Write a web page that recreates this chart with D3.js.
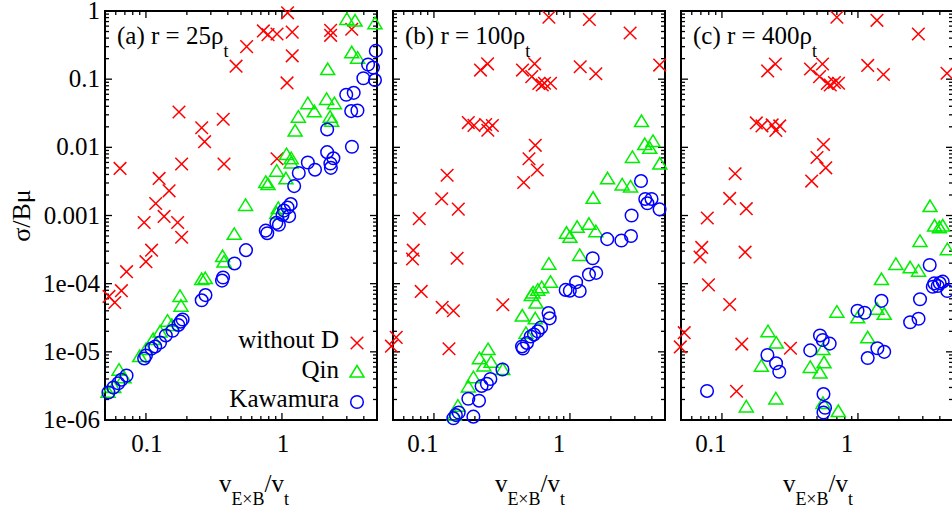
<!DOCTYPE html>
<html>
<head>
<meta charset="utf-8">
<script src="https://cdn.jsdelivr.net/npm/d3@7"></script>
<style>
  body { margin: 0; background: #fff; }
  svg text { font-family: "Liberation Serif", "Times New Roman", serif; fill: #000; }
</style>
</head>
<body>
<svg id="chart" width="952" height="516"></svg>
<script>
// points are [v_ExB / v_t, sigma / (B mu)]
const withoutD_a = [[1.1,0.94],[0.73,0.51],[0.79,0.45],[0.92,0.46],[1.19,0.49],[2.28,0.52],[2.28,0.44],[3.26,0.54],[0.55,0.30],[0.46,0.155],[1.19,0.22],[1.09,0.088],[0.92,0.0068],[0.175,0.033],[0.257,0.0194],[0.27,0.0121],[0.37,0.0258],[0.0645,0.0049],[0.183,0.0057],[0.375,0.0057],[0.125,0.0035],[0.148,0.0023],[0.118,0.0015],[0.136,0.00097],[0.097,0.00079],[0.171,0.00079],[0.183,0.00048],[0.11,0.00031],[0.1,0.00021],[0.072,0.00015],[0.066,7.9e-5],[0.0535,6.5e-5],[0.059,5.3e-5]];
const qin_a = [[3.0,0.74],[3.45,0.70],[4.83,0.64],[3.26,0.24],[3.6,0.20],[2.17,0.136],[1.55,0.043],[2.13,0.0495],[2.43,0.043],[1.73,0.0327],[1.32,0.0272],[2.26,0.0272],[2.32,0.0238],[1.25,0.017],[1.08,0.0077],[1.17,0.0067],[1.17,0.0058],[0.915,0.0044],[0.76,0.0030],[0.79,0.0028],[1.07,0.0034],[0.54,0.00138],[0.94,0.00125],[0.915,0.00105],[0.446,0.00052],[0.366,0.000246],[0.375,0.000204],[0.257,0.000113],[0.273,0.000117],[0.178,6.4e-5],[0.181,4.6e-5],[0.155,2.4e-5],[0.144,2.77e-5],[0.127,1.92e-5],[0.113,1.49e-5],[0.1,1.06e-5],[0.09,8.4e-6],[0.0634,5.3e-6],[0.069,4.1e-6],[0.058,2.95e-6],[0.0526,2.5e-6]];
const kawamura_a = [[4.9,0.26],[4.3,0.164],[4.67,0.148],[3.97,0.103],[4.83,0.097],[2.97,0.059],[3.37,0.063],[3.23,0.034],[3.59,0.0347],[2.15,0.0183],[3.27,0.0102],[2.15,0.0085],[2.39,0.0069],[2.27,0.0058],[2.29,0.0050],[1.55,0.0060],[1.75,0.0047],[1.33,0.0042],[1.23,0.0027],[1.16,0.00147],[1.10,0.00131],[1.035,0.00118],[1.13,0.00098],[1.01,0.00102],[0.91,0.00078],[0.95,0.00073],[0.76,0.0006],[0.78,0.00055],[0.544,0.00031],[0.448,0.000198],[0.369,0.000123],[0.3625,0.000111],[0.274,6.8e-5],[0.257,5.7e-5],[0.186,2.98e-5],[0.18,2.77e-5],[0.173,2.48e-5],[0.157,2.04e-5],[0.14,1.74e-5],[0.127,1.37e-5],[0.117,1.2e-5],[0.11,1.12e-5],[0.1,8.8e-6],[0.097,8.0e-6],[0.072,4.5e-6],[0.066,3.9e-6],[0.0626,3.46e-6],[0.0577,3.0e-6],[0.053,2.53e-6]];

const withoutD_b = [[0.70,0.81],[1.39,0.75],[2.77,0.476],[4.57,0.161],[0.22,0.136],[0.248,0.168],[0.448,0.136],[0.55,0.168],[0.524,0.109],[0.59,0.0864],[0.626,0.082],[0.65,0.087],[0.72,0.087],[1.19,0.152],[1.55,0.12],[0.179,0.0231],[0.197,0.021],[0.24,0.0216],[0.249,0.0178],[0.269,0.0209],[0.556,0.0107],[0.50,0.0068],[0.575,0.00465],[0.457,0.00305],[0.125,0.0039],[0.114,0.00176],[0.151,0.00124],[0.078,0.0009],[0.0704,0.00031],[0.0696,0.00023],[0.148,0.000236],[0.0806,7.7e-5],[0.115,4.5e-5],[0.139,4.0e-5],[0.321,4.9e-5],[0.0528,1.63e-5],[0.0487,1.21e-5],[0.129,1.11e-5]];
const qin_b = [[3.36,0.0235],[3.55,0.0108],[4.08,0.012],[3.86,0.0095],[2.88,0.0070],[4.58,0.0056],[1.89,0.0034],[2.42,0.00276],[2.79,0.00258],[1.48,0.00176],[1.13,0.00066],[1.38,0.00073],[1.55,0.00057],[0.943,0.00054],[1.0,0.00047],[1.18,0.000255],[0.70,0.00019],[0.72,0.000103],[0.535,7.2e-5],[0.58,7.9e-5],[0.62,8.6e-5],[0.52,6.6e-5],[0.563,5.1e-5],[0.446,3.3e-5],[0.556,3.0e-5],[0.475,1.83e-5],[0.25,1.06e-5],[0.216,7.8e-6],[0.263,6.9e-6],[0.233,6.1e-6],[0.321,5.4e-6],[0.195,4.1e-6],[0.179,3.0e-6],[0.150,1.57e-6],[0.141,1.15e-6]];
const kawamura_b = [[3.33,0.0032],[3.58,0.00175],[3.98,0.00175],[3.71,0.00151],[4.56,0.00123],[2.84,0.0010],[1.88,0.00045],[2.39,0.00043],[2.81,0.0005],[1.47,0.000236],[1.38,0.000136],[1.56,0.000144],[1.11,0.000105],[0.93,8.1e-5],[0.998,7.9e-5],[1.18,7.8e-5],[0.696,3.7e-5],[0.71,3.1e-5],[0.613,2.28e-5],[0.58,2.0e-5],[0.544,1.8e-5],[0.515,1.68e-5],[0.483,1.35e-5],[0.444,1.2e-5],[0.452,1.12e-5],[0.319,5.5e-6],[0.26,4.0e-6],[0.245,3.4e-6],[0.224,3.16e-6],[0.2145,1.92e-6],[0.179,2.05e-6],[0.152,1.29e-6],[0.145,1.18e-6],[0.139,1.06e-6],[0.195,1.12e-6]];

const withoutD_c = [[0.70,0.81],[1.38,0.73],[2.78,0.46],[4.52,0.122],[0.217,0.132],[0.247,0.167],[0.448,0.141],[0.549,0.167],[0.522,0.109],[0.595,0.0864],[0.626,0.082],[0.672,0.0894],[0.72,0.087],[1.18,0.159],[1.54,0.117],[0.179,0.0228],[0.197,0.0206],[0.234,0.0213],[0.249,0.0177],[0.266,0.0206],[0.558,0.011],[0.50,0.0071],[0.58,0.0050],[0.457,0.0032],[0.125,0.0041],[0.114,0.00178],[0.151,0.00126],[0.078,0.00092],[0.071,0.00034],[0.069,0.000246],[0.148,0.00029],[0.0796,9.6e-5],[0.114,4.95e-5],[0.0528,1.91e-5],[0.0494,1.18e-5],[0.14,1.3e-5],[0.319,1.13e-5],[0.128,2.64e-6]];
const qin_c = [[3.39,0.00133],[3.66,0.00069],[3.97,0.00065],[4.2,0.00069],[2.86,0.00041],[4.54,0.00031],[1.9,0.000188],[2.42,0.000168],[2.79,0.00015],[1.49,0.000113],[0.70,3.75e-5],[0.996,3.1e-5],[1.38,4.15e-5],[1.56,3.5e-5],[1.18,1.58e-5],[0.218,1.94e-5],[0.251,1.32e-5],[0.195,6.05e-6],[0.553,1.06e-5],[0.446,5.8e-6],[0.563,6.8e-6],[0.526,4.8e-6],[0.249,2.0e-6],[0.151,1.53e-6],[0.553,1.72e-6],[0.717,1.31e-6]];
const kawamura_c = [[3.37,0.000188],[3.64,0.000101],[3.99,0.000102],[4.2,0.000107],[3.55,9.0e-5],[3.86,9.25e-5],[4.54,7.8e-5],[2.86,5.9e-5],[2.42,2.72e-5],[2.79,3.06e-5],[1.49,5.6e-5],[0.993,4.0e-5],[1.12,3.75e-5],[1.39,1.13e-5],[1.56,1.0e-5],[1.18,8.1e-6],[0.526,1.74e-5],[0.551,1.49e-5],[0.62,1.32e-5],[0.446,1.05e-5],[0.216,9.0e-6],[0.25,6.8e-6],[0.264,5.1e-6],[0.0777,2.67e-6],[0.558,2.4e-6],[0.573,1.51e-6],[0.558,1.29e-6]];

const panelTitles = ['(a) r = 25ρ', '(b) r = 100ρ', '(c) r = 400ρ'];
const xTickValues = [0.1, 1];
const xTickLabels = ['0.1', '1'];
const yTickValues = [1e-6, 1e-5, 1e-4, 1e-3, 1e-2, 1e-1, 1];
const yTickLabels = ['1e-06', '1e-05', '1e-04', '0.001', '0.01', '0.1', '1'];
const legendLabels = ['without D', 'Qin', 'Kawamura'];

const panels = [
  { left: 105, shift: 1, title: panelTitles[0], series: [withoutD_a, qin_a, kawamura_a] },
  { left: 393, shift: -11, title: panelTitles[1], series: [withoutD_b, qin_b, kawamura_b] },
  { left: 681, shift: -11, title: panelTitles[2], series: [withoutD_c, qin_c, kawamura_c] }
];

const panelWidth = 272;
const plotTop = 11, plotBottom = 420;
const fontSize = '25px', subSize = '18px';
const colors = ['#ff0000', '#00ee00', '#0000ff'];
const symbols = [
  'M-6.3,-6.3L6.3,6.3M-6.3,6.3L6.3,-6.3',
  'M0,-7L7,4.5L-7,4.5Z',
  null
];

const svg = d3.select('#chart');
svg.append('rect').attr('width', 952).attr('height', 516).attr('fill', '#fff');

const y = d3.scaleLog().domain([1e-6, 1]).range([plotBottom, plotTop]);
const isDecade = v => Math.abs(Math.log10(v) - Math.round(Math.log10(v))) < 1e-9;

function drawMark(sel, k) {
  if (k === 2) {
    sel.append('circle').attr('r', 6.3)
      .attr('fill', 'none').attr('stroke', colors[k]).attr('stroke-width', 1.5);
  } else {
    sel.append('path').attr('d', symbols[k])
      .attr('fill', 'none').attr('stroke', colors[k]).attr('stroke-width', 1.5);
  }
}

panels.forEach((p, i) => {
  const x = d3.scaleLog().domain([0.05, 5]).range([p.left, p.left + panelWidth]);
  const g = svg.append('g');
  const [x0, x1] = x.range();

  // inward ticks on all four sides
  const ticks = g.append('g').attr('stroke', '#000').attr('stroke-width', 1.3);
  x.ticks().filter(v => v > 0.05 && v < 5).forEach(v => {
    const len = isDecade(v) ? 7 : 4;
    ticks.append('line').attr('x1', x(v)).attr('x2', x(v)).attr('y1', plotBottom).attr('y2', plotBottom - len);
    ticks.append('line').attr('x1', x(v)).attr('x2', x(v)).attr('y1', plotTop).attr('y2', plotTop + len);
  });
  y.ticks().filter(v => v > 1e-6 && v < 1).forEach(v => {
    const len = isDecade(v) ? 7 : 4;
    ticks.append('line').attr('y1', y(v)).attr('y2', y(v)).attr('x1', x0).attr('x2', x0 + len);
    ticks.append('line').attr('y1', y(v)).attr('y2', y(v)).attr('x1', x1).attr('x2', x1 - len);
  });

  g.append('rect')
    .attr('x', x0).attr('y', plotTop)
    .attr('width', x1 - x0).attr('height', plotBottom - plotTop)
    .attr('fill', 'none').attr('stroke', '#000').attr('stroke-width', 2);

  // x tick labels
  g.selectAll('.xlab').data(xTickValues).join('text')
    .attr('x', d => x(d) + p.shift).attr('y', 452)
    .attr('text-anchor', 'middle').style('font-size', fontSize)
    .text((d, j) => xTickLabels[j]);

  // axis title v_ExB / v_t
  const xt = g.append('text')
    .attr('x', x(0.1) + 107 + p.shift).attr('y', 492)
    .attr('text-anchor', 'middle').style('font-size', fontSize);
  xt.append('tspan').text('v');
  xt.append('tspan').attr('dy', 13).style('font-size', subSize).text('E×B');
  xt.append('tspan').attr('dy', -13).text('/v');
  xt.append('tspan').attr('dy', 13).style('font-size', subSize).text('t');

  // panel label
  const tt = g.append('text').attr('x', x0 + 12).attr('y', 44).style('font-size', fontSize);
  tt.append('tspan').text(p.title);
  tt.append('tspan').attr('dy', 13).style('font-size', subSize).text('t');

  // markers: without D, Qin, Kawamura
  p.series.forEach((data, k) => {
    const m = g.append('g');
    data.forEach(d => {
      drawMark(m.append('g').attr('transform', `translate(${x(d[0])},${y(d[1])})`), k);
    });
  });

  if (i === 0) {
    g.selectAll('.ylab').data(yTickValues).join('text')
      .attr('x', 100).attr('y', d => y(d) + 8)
      .attr('text-anchor', 'end').style('font-size', fontSize)
      .text((d, j) => yTickLabels[j]);

    g.append('text')
      .attr('transform', `translate(30,${(plotTop + plotBottom) / 2}) rotate(-90)`)
      .attr('text-anchor', 'middle').style('font-size', '26px')
      .text('σ/Bμ');

    const legend = g.append('g');
    legendLabels.forEach((label, k) => {
      const ly = 343 + k * 29.5;
      legend.append('text').attr('x', 339).attr('y', ly + 5)
        .attr('text-anchor', 'end').style('font-size', fontSize).text(label);
      drawMark(legend.append('g').attr('transform', `translate(357,${ly})`), k);
    });
  }
});
</script>
</body>
</html>
